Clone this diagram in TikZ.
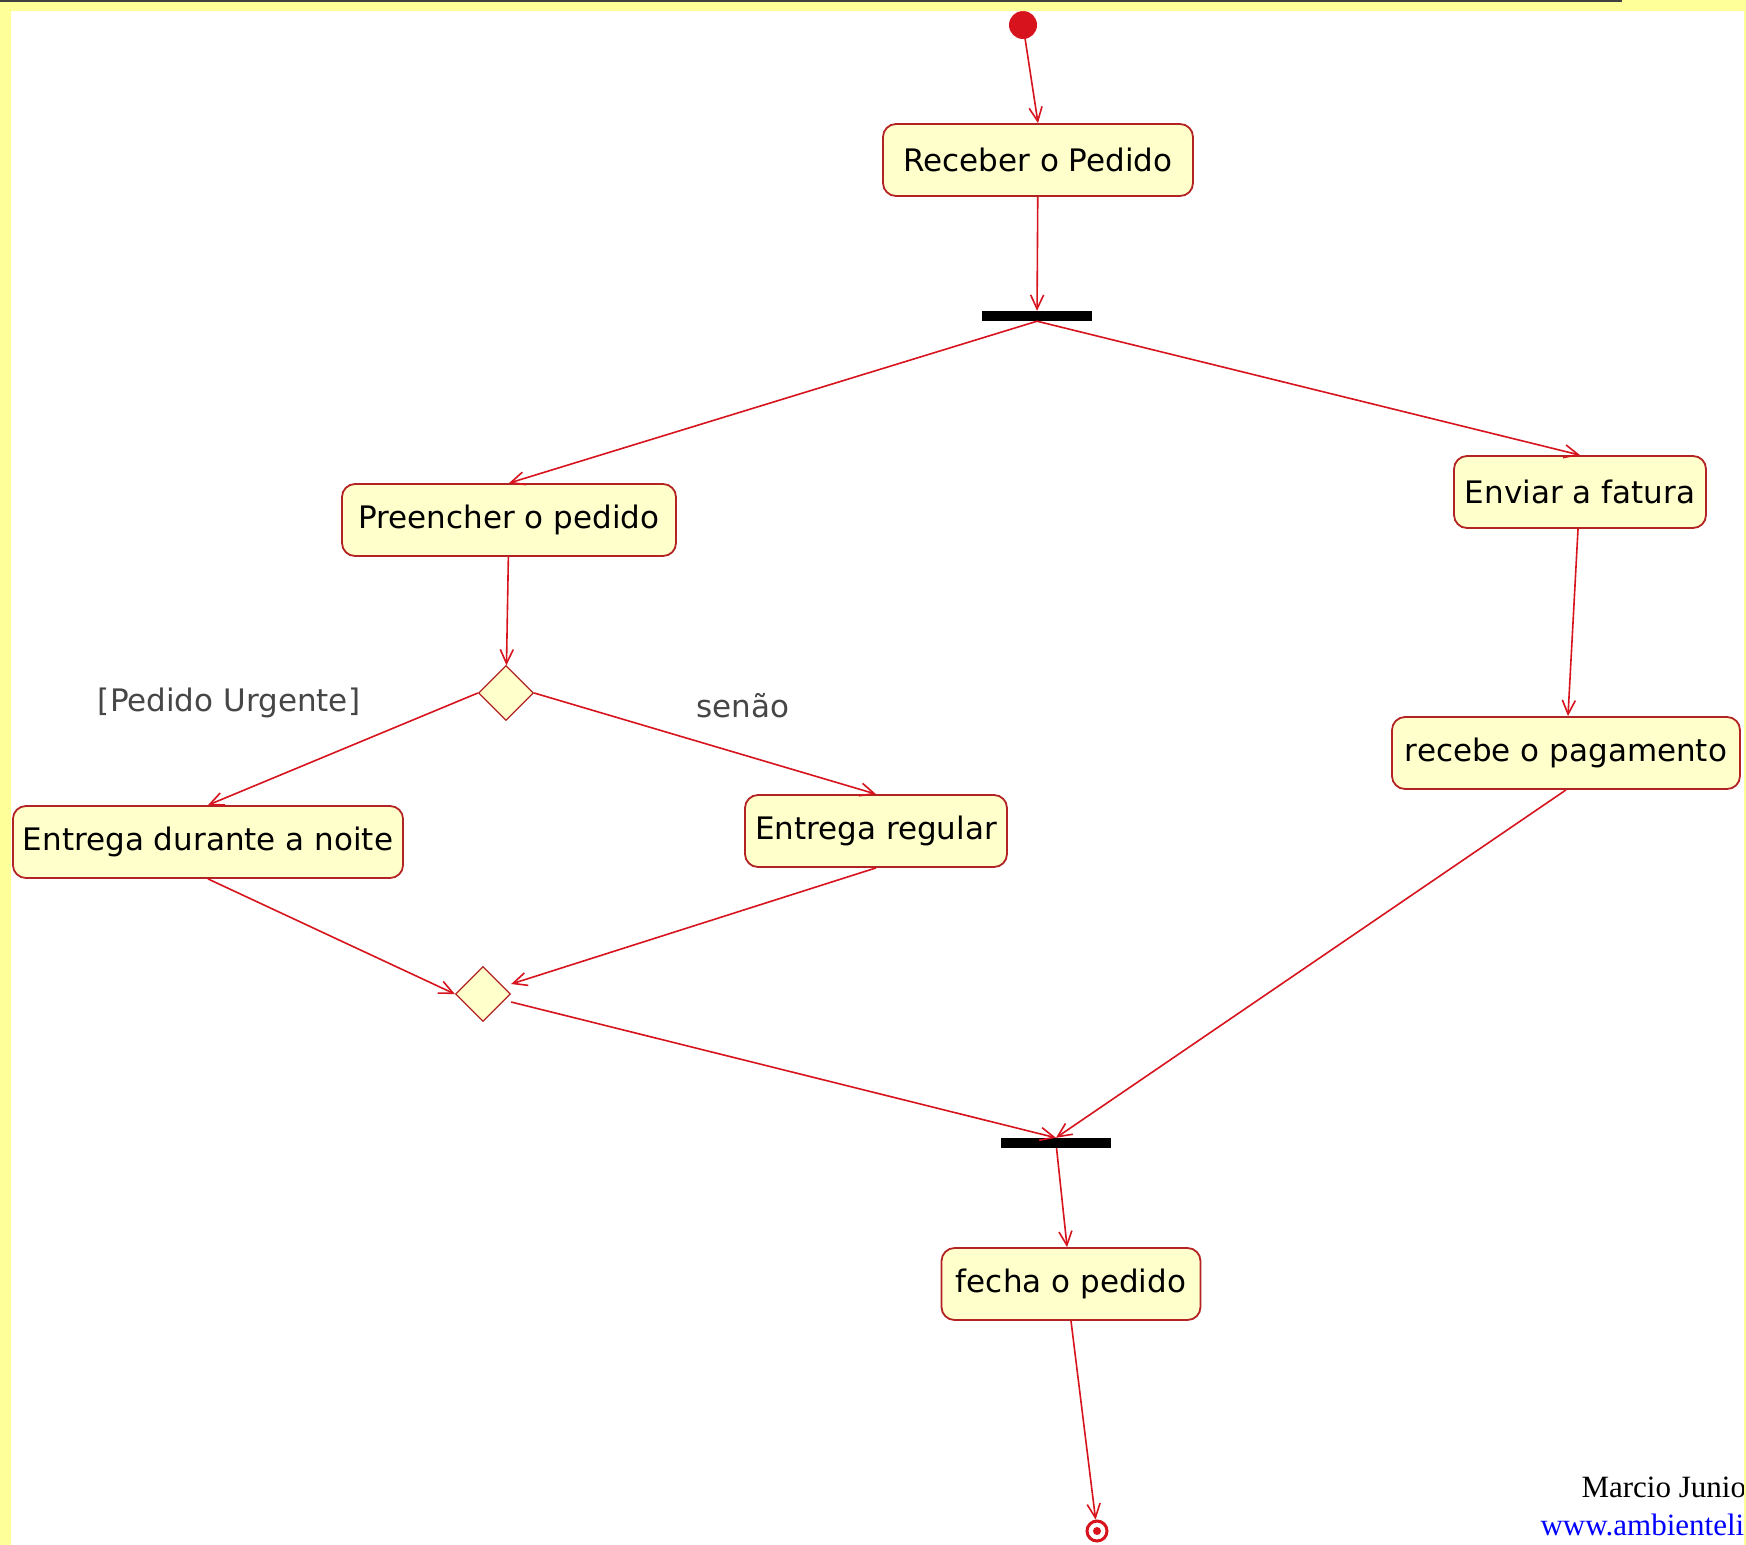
\documentclass[tikz,border=0pt]{standalone}
\usepackage{fontspec}
\setmainfont{Liberation Serif}
\newfontfamily\umlfont{DejaVu Sans}
\usepackage{xcolor}
\definecolor{umlred}{RGB}{215,20,30}
\definecolor{boxline}{RGB}{180,35,35}
\definecolor{boxfill}{RGB}{255,255,204}
\definecolor{framey}{RGB}{255,255,153}
\definecolor{guardgray}{RGB}{70,70,70}
\usepackage{tikz}
\usetikzlibrary{arrows.meta}
\usetikzlibrary{shapes.geometric}

\begin{document}
\begin{tikzpicture}[x=1pt, y=-1pt,
			activity/.style={draw=boxline, fill=boxfill, rounded corners=13pt, line width=1.8pt,
				minimum height=72pt, inner xsep=10pt, font=\umlfont\fontsize{31}{36}\selectfont},
			choice/.style={diamond, draw=boxline, fill=boxfill, line width=1.3pt,
				minimum width=55pt, minimum height=55pt, inner sep=0pt},
			syncbar/.style={fill=black, minimum width=110pt, minimum height=10pt, inner sep=0pt},
			guard/.style={text=guardgray, font=\umlfont\fontsize{31}{36}\selectfont},
			flow/.style={draw=umlred, line width=1.6pt, -{Straight Barb[length=14pt,width=13pt]}},
			]
			\tikzset{startdot/.style={circle, fill=umlred, minimum size=28pt, inner sep=0pt},
				enddot/.style={circle, draw=umlred, line width=3pt, fill=white, minimum size=20pt, inner sep=0pt,
					path picture={\fill[umlred] (path picture bounding box.center) circle (4pt);}}}
			\useasboundingbox (0,0) rectangle (1746,1545);
			\fill[white] (0,0) rectangle (1746,1545);

			\node[startdot] (ini) at (1023,25) {};
			\node[activity, minimum width=310pt] (receber) at (1038,160) {Receber o Pedido};
			\node[syncbar] (fork) at (1037,316) {};
			\node[activity, minimum width=334pt] (preencher) at (509,520) {Preencher o pedido};
			\node[activity, minimum width=252pt] (fatura) at (1580,492) {Enviar a fatura};
			\node[choice] (dec) at (506,693) {};
			\node[guard] (urgente) at (229,703) {[Pedido Urgente]};
			\node[guard] (senao) at (743,706) {senão};
			\node[activity, minimum width=389pt] (noite) at (208,842) {Entrega durante a noite};
			\node[activity, minimum width=262pt] (regular) at (876,831) {Entrega regular};
			\node[activity, minimum width=348pt] (pagamento) at (1566,753) {recebe o pagamento};
			\node[choice] (merge) at (483,994) {};
			\node[syncbar] (join) at (1056,1143) {};
			\node[activity, minimum width=259pt] (fecha) at (1071,1284) {fecha o pedido};
			\node[enddot] (fim) at (1097,1531) {};

			\draw[flow] (ini) -- (receber.north);
			\draw[flow] (receber) -- (fork);
			\draw[flow] (fork.south) -- (preencher.north);
			\draw[flow] (fork.south) -- (fatura.north);
			\draw[flow] (preencher) -- (dec);
			\draw[flow] (dec.west) -- (noite.north);
			\draw[flow] (dec.east) -- (regular.north);
			\draw[flow] (fatura) -- (pagamento);
			\draw[flow] (noite.south) -- (merge.west);
			\draw[flow] (regular.south) -- ([yshift=10pt]merge.east);
			\draw[flow] ([yshift=-8pt]merge.east) -- (join.north);
			\draw[flow] (pagamento.south) -- (join.north);
			\draw[flow] (join) -- (fecha);
			\draw[flow] (fecha.south) -- (fim);

			\begin{scope}
				\clip (0,0) rectangle (1744,1545);
				\node[anchor=west, font=\fontsize{31}{36}\selectfont] (autor) at (1578,1487) {Marcio Junio};
				\node[anchor=west, text=blue, font=\fontsize{31}{36}\selectfont] (site) at (1537,1525) {www.ambienteli};
			\end{scope}
			\fill[framey, even odd rule] (0,0) rectangle (1746,1545) (11,11) rectangle (1744,1546);
			\draw[black!75, line width=2pt] (0,1) -- (1622,1);
		\end{tikzpicture}
\end{document}
